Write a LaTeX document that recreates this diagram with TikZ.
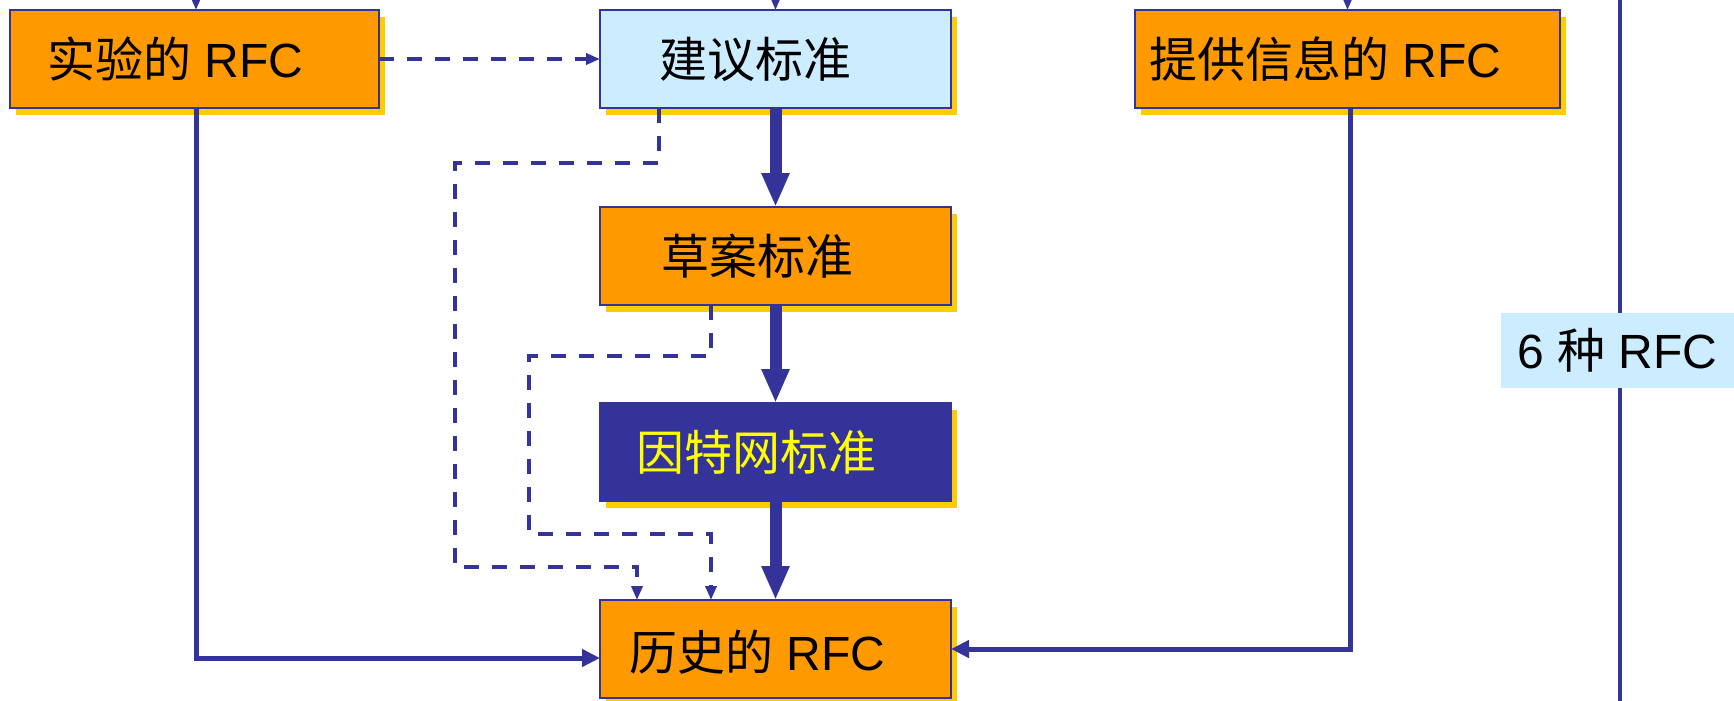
\documentclass[tikz,border=0pt]{standalone}
\usepackage{fontspec}
\setmainfont{Liberation Sans}
\newfontfamily\cjk{Noto Sans CJK SC}
\usetikzlibrary{arrows.meta,shadows}
\definecolor{navy}{HTML}{333399}
\definecolor{orng}{HTML}{FF9900}
\definecolor{shy}{HTML}{FFCC00}
\definecolor{lblue}{HTML}{CCECFF}
\definecolor{yel}{HTML}{FFFF00}
\begin{document}
\begin{tikzpicture}[x=0.5pt,y=-0.5pt,
  boxbase/.style={draw=navy, line width=0.75pt, inner sep=0pt, outer sep=0pt,
    minimum height=49pt,
    general shadow={shadow xshift=3pt, shadow yshift=-3.5pt, fill=shy, draw=none}},
  obox/.style={boxbase, fill=orng},
  bbox/.style={boxbase, fill=lblue},
  nbox/.style={boxbase, fill=navy},
  lbl/.style={font=\fontsize{24pt}{28pt}\selectfont, inner sep=0pt, text=black},
  thick/.style={draw=navy, line width=6pt, -{Triangle[length=17pt,width=13pt]}},
  solidarr/.style={draw=navy, line width=2.5pt, -{Triangle[length=9pt,width=8.5pt]}},
  toparr/.style={draw=navy, line width=2pt, -{Triangle[length=10pt,width=8pt]}},
  dasharr/.style={draw=navy, line width=2pt, dash pattern=on 7.5pt off 6.5pt, -{Triangle[length=7pt,width=5.5pt]}}
]
\path[use as bounding box] (0,0) rectangle (1734,701);
\clip (0,0) rectangle (1734,701);

% vertical line behind label
\coordinate (vt) at (1620,0);
\coordinate (vb) at (1620,701);
\draw[navy, line width=2pt] (vt) -- (vb);

% boxes
\node[obox, minimum width=184.5pt] (syy) at (194.5,59) {};
\node[bbox, minimum width=175.5pt] (jy) at (775.5,59) {};
\node[obox, minimum width=212.5pt] (tg) at (1347.5,59) {};
\node[obox, minimum width=175.5pt] (ca) at (775.5,256) {};
\node[nbox, minimum width=175.5pt] (yt) at (775.5,452) {};
\node[obox, minimum width=175.5pt] (ls) at (775.5,649) {};
\node[fill=lblue, inner sep=0pt, minimum width=116.5pt, minimum height=37.5pt] (six) at (1617.5,350.5) {};

% labels
\node[lbl] (syyt) at ([xshift=-9.5pt]syy.center) {{\cjk 实验的} RFC};
\node[lbl] (jyt) at ([xshift=-10pt]jy.center) {{\cjk 建议标准}};
\node[lbl] (tgt) at ([xshift=-11pt]tg.center) {{\cjk 提供信息的} RFC};
\node[lbl] (cat) at ([xshift=-9pt]ca.center) {{\cjk 草案标准}};
\node[lbl, text=yel] (ytt) at ([xshift=-9.5pt]yt.center) {{\cjk 因特网标准}};
\node[lbl] (lst) at ([xshift=-9pt,yshift=-1.5pt]ls.center) {{\cjk 历史的} RFC};
\node[lbl] (sixt) at (six.center) {6 {\cjk 种} RFC};

% top incoming arrows
\coordinate (t1) at (196,-30);
\coordinate (t2) at (775.5,-30);
\coordinate (t3) at (1347.5,-30);
\draw[toparr] (t1) -- (syy.north -| t1);
\draw[toparr] (t2) -- (jy.north);
\draw[toparr] (t3) -- (tg.north);

% main chain
\draw[thick] (jy.south) -- (ca.north);
\draw[thick] (ca.south) -- (yt.north);
\draw[thick] (yt.south) -- (ls.north);

% dashed experimental -> proposed
\draw[dasharr] (syy.east) -- (jy.west);

% dashed from proposed to historic
\draw[dasharr] ([xshift=-58.25pt]jy.south) |- (455,163) |- (637,567) -- ([xshift=-69.25pt]ls.north);
% dashed from draft to historic
\draw[dasharr] ([xshift=-32.25pt]ca.south) |- (529,356) |- (711,534) -- ([xshift=-32.25pt]ls.north);

% solid from experimental to historic
\draw[solidarr] ([xshift=0.75pt]syy.south) |- ([yshift=-4.5pt]ls.west);
% solid from informational to historic
\draw[solidarr] ([xshift=1.25pt]tg.south) |- (ls.east);
\end{tikzpicture}
\end{document}
